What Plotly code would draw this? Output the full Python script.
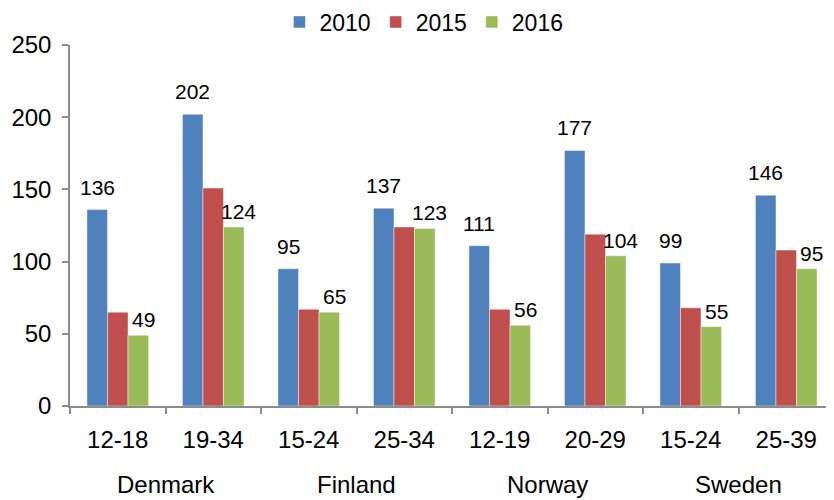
import plotly.graph_objects as go

countries = ["Denmark", "Finland", "Norway", "Sweden"]
age_groups = ["12-18", "19-34", "15-24", "25-34", "12-19", "20-29", "15-24", "25-39"]
years = ["2010", "2015", "2016"]
v2010 = [136, 202, 95, 137, 111, 177, 99, 146]
v2015 = [65, 151, 67, 124, 67, 119, 68, 108]
v2016 = [49, 124, 65, 123, 56, 104, 55, 95]
colors = ["#4F81BD", "#C0504D", "#9BBB59"]

x = list(range(len(age_groups)))
series = [v2010, v2015, v2016]

BARGAP = 0.355
bar_w = (1 - BARGAP) / 3

# page has an 8px body margin; figure sized so it fills the 834x500 window
W, H = 826, 492

fig = go.Figure()
for name, vals, col in zip(years, series, colors):
    fig.add_trace(go.Bar(
        x=x, y=vals, name=name,
        marker=dict(color=col, line=dict(color="rgba(255,255,255,0.45)", width=1)),
        hoverinfo="x+y+name",
    ))

# data labels for 2010 (above blue bars) and 2016 (above green bars)
label_font = dict(size=21, color="black", family="Liberation Sans, Arial, sans-serif")
for xi, v in zip(x, v2010):
    fig.add_annotation(x=xi - bar_w, y=v, xref="x", yref="y", text=str(v),
                       showarrow=False, yanchor="bottom", yshift=9, font=label_font)
for xi, v in zip(x, v2016):
    fig.add_annotation(x=xi + bar_w, y=v, xref="x", yref="y", text=str(v),
                       showarrow=False, yanchor="bottom", yshift=2, xshift=5,
                       font=label_font)

for i, c in enumerate(countries):
    fig.add_annotation(x=2 * i + 0.5, y=-0.2604, xref="x", yref="paper",
                       text=c, showarrow=False, yanchor="bottom",
                       font=dict(size=24, color="black"))

fig.update_layout(
    width=W, height=H,
    margin=dict(l=62, r=0, t=37, b=94, autoexpand=False),
    paper_bgcolor="white", plot_bgcolor="white",
    font=dict(family="Liberation Sans, Arial, sans-serif", color="black"),
    barmode="group", bargap=BARGAP, bargroupgap=0,
    showlegend=True,
    legend=dict(orientation="h", xref="container", yref="container",
                x=0.5036, xanchor="center", y=0.9715, yanchor="middle",
                font=dict(size=23), itemwidth=30, traceorder="normal"),
)
fig.update_xaxes(
    range=[-0.5, 7.5], tickmode="array", tickvals=x, ticktext=age_groups,
    ticks="", showgrid=False, zeroline=False,
    showline=True, linecolor="#8C8C8C", linewidth=1.5,
    tickfont=dict(size=24), ticklabelstandoff=11,
    minor=dict(tickmode="array", tickvals=[i - 0.5 for i in range(9)], ticks="outside",
               ticklen=6, tickcolor="#8C8C8C", tickwidth=1.5, showgrid=False),
)
fig.update_yaxes(
    range=[0, 250], dtick=50, showgrid=False, zeroline=False,
    showline=True, linecolor="#8C8C8C", linewidth=1.5,
    ticks="outside", ticklen=6, tickcolor="#8C8C8C", tickwidth=1.5,
    tickfont=dict(size=24), ticklabelstandoff=6,
)

fig.write_html("out.html")
